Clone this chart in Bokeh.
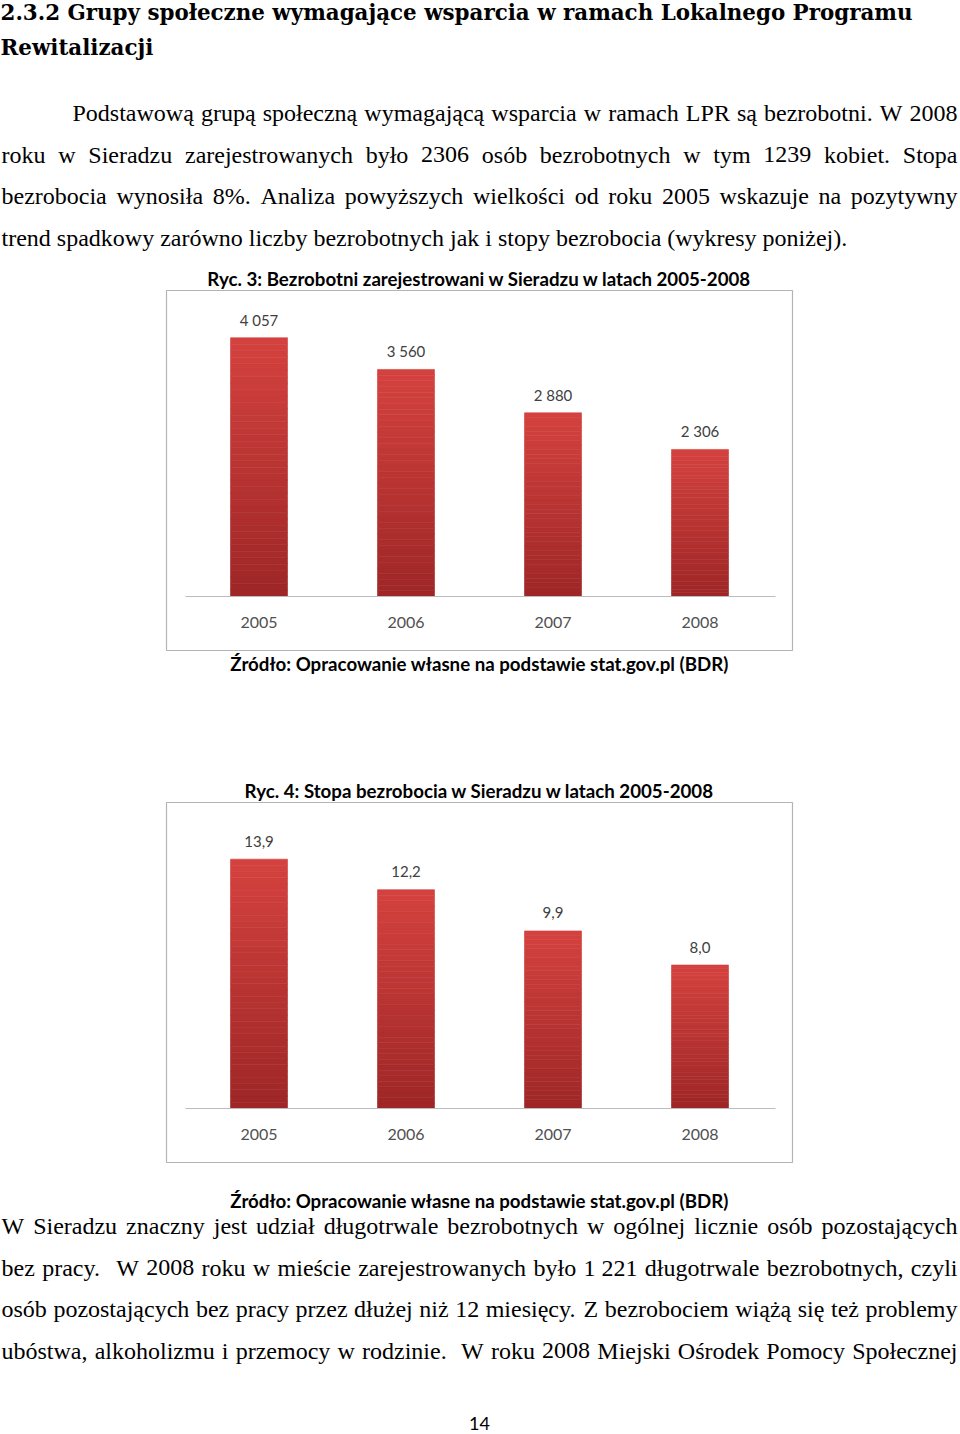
from bokeh.plotting import figure
from bokeh.models import Range1d, ColumnDataSource
from bokeh.embed import file_html
from bokeh.resources import INLINE
from bokeh.core.properties import value

# ---------------- data ----------------
years = ["2005", "2006", "2007", "2008"]
unemployed = [4057, 3560, 2880, 2306]
unemployment_rate = [13.9, 12.2, 9.9, 8.0]
axis_max_unemployed = 4500
axis_max_rate = 16

heading_lines = [
    "2.3.2 Grupy społeczne wymagające wsparcia w ramach Lokalnego Programu",
    "Rewitalizacji",
]
para1_lines = [
    "Podstawową grupą społeczną wymagającą wsparcia w ramach LPR są bezrobotni. W 2008",
    "roku w Sieradzu zarejestrowanych było 2306 osób bezrobotnych w tym 1239 kobiet. Stopa",
    "bezrobocia wynosiła 8%. Analiza powyższych wielkości od roku 2005 wskazuje na pozytywny",
    "trend spadkowy zarówno liczby bezrobotnych jak i stopy bezrobocia (wykresy poniżej).",
]
para2_lines = [
    "W Sieradzu znaczny jest udział długotrwale bezrobotnych w ogólnej licznie osób pozostających",
    "bez pracy.  W 2008 roku w mieście zarejestrowanych było 1\u00a0221 długotrwale bezrobotnych, czyli",
    "osób pozostających bez pracy przez dłużej niż 12 miesięcy. Z bezrobociem wiążą się też problemy",
    "ubóstwa, alkoholizmu i przemocy w rodzinie.  W roku 2008 Miejski Ośrodek Pomocy Społecznej",
]
chart1_title = "Ryc. 3: Bezrobotni zarejestrowani w Sieradzu w latach 2005-2008"
chart2_title = "Ryc. 4: Stopa bezrobocia w Sieradzu w latach 2005-2008"
source_text = "Źródło: Opracowanie własne na podstawie stat.gov.pl (BDR)"
page_number = "14"

unemployed_labels = [f"{v:,}".replace(",", "\u00a0") for v in unemployed]
rate_labels = [f"{v:.1f}".replace(".", ",") for v in unemployment_rate]

# ---------------- page ----------------
W, H = 960, 1434
p = figure(width=W, height=H, x_range=Range1d(0, W), y_range=Range1d(H, 0),
           output_backend="svg", toolbar_location=None, min_border=0,
           x_axis_location=None, y_axis_location=None, outline_line_color=None,
           background_fill_color="white", border_fill_color="white")
p.grid.visible = False

BODY_FONT = "Liberation Serif"
BODY_SIZE = 24
# Times / Liberation Serif advance widths (per 1000 em)
TW = {' ': 250, 'a': 444, 'b': 500, 'c': 444, 'd': 500, 'e': 444, 'f': 333, 'g': 500, 'h': 500,
      'i': 278, 'j': 278, 'k': 500, 'l': 278, 'm': 778, 'n': 500, 'o': 500, 'p': 500, 'q': 500,
      'r': 333, 's': 389, 't': 278, 'u': 500, 'v': 500, 'w': 722, 'x': 500, 'y': 500, 'z': 444,
      'ą': 444, 'ę': 444, 'ć': 444, 'ł': 278, 'ń': 500, 'ó': 500, 'ś': 389, 'ź': 444, 'ż': 444,
      'A': 722, 'B': 667, 'C': 667, 'D': 722, 'E': 611, 'F': 556, 'G': 722, 'H': 722, 'I': 333,
      'J': 389, 'K': 722, 'L': 611, 'M': 889, 'N': 722, 'O': 722, 'P': 556, 'Q': 722, 'R': 667,
      'S': 556, 'T': 611, 'U': 722, 'V': 722, 'W': 944, 'X': 722, 'Y': 722, 'Z': 611, 'Ś': 556,
      'Ź': 611, 'Ż': 611, 'Ó': 722, 'Ł': 611, '.': 250, ',': 250, '(': 333, ')': 333, '%': 833,
      ':': 278, '-': 333, '\u00a0': 250}
for d in "0123456789":
    TW[d] = 500


def tw(s):
    return sum(TW.get(c, 500) for c in s) * BODY_SIZE / 1000.0


def layout_line(line, left, right, justify, y):
    toks = line.split(" ")
    if not justify:
        return [line], [left], [y]
    words_w = sum(tw(t) for t in toks)
    gap = (right - left - words_w) / (len(toks) - 1)
    xs, ts = [], []
    x = left
    for t in toks:
        if t:
            xs.append(x)
            ts.append(t)
        x += tw(t) + gap
    return ts, xs, [y] * len(ts)


def body_paragraph(lines, centers, first_indent, last_justified):
    T, X, Y = [], [], []
    for i, (ln, yc) in enumerate(zip(lines, centers)):
        left = 1 + (first_indent if i == 0 else 0)
        just = last_justified or i < len(lines) - 1
        t, x, y = layout_line(ln, left, 957, just, yc)
        T += t
        X += x
        Y += y
    p.text(x=X, y=Y, text=T, text_font=value(BODY_FONT), text_font_size=f"{BODY_SIZE}px",
           text_color="black", text_align="left", text_baseline="middle")


# heading
p.text(x=[0, 0], y=[12, 47], text=heading_lines, text_font=value("DejaVu Serif"),
       text_font_style="bold", text_font_size="21.4px", text_color="black",
       text_align="left", text_baseline="middle")

body_paragraph(para1_lines, [112.5, 154, 195.5, 237], 71, False)
body_paragraph(para2_lines, [1225.5, 1267, 1308.5, 1350], 0, True)

# ---------------- charts ----------------
X0, STEP = 258.5, 147.0
PLOT_H = 287.0
BAR_W = 57.0
CHART_FONT = "Lato"

x_ranges = {"cx": Range1d(-X0 / STEP, (W - X0) / STEP)}


def y_range_for(vmax, base):
    s = PLOT_H / vmax
    return Range1d(-(H - base) / s, base / s)


charts = [
    dict(name="c1", vals=unemployed, labels=unemployed_labels, vmax=axis_max_unemployed,
         box_top=290, base=596, title=chart1_title, title_y=278, caption_y=663),
    dict(name="c2", vals=unemployment_rate, labels=rate_labels, vmax=axis_max_rate,
         box_top=802, base=1108, title=chart2_title, title_y=790, caption_y=1200),
]

y_ranges = {c["name"]: y_range_for(c["vmax"], c["base"]) for c in charts}
p.extra_x_ranges = x_ranges
p.extra_y_ranges = y_ranges

TOP_RGB = (212, 66, 63)
BOT_RGB = (158, 38, 38)
NSL = 40


def mix(f):
    r = [round(BOT_RGB[k] + (TOP_RGB[k] - BOT_RGB[k]) * f) for k in range(3)]
    return "#%02x%02x%02x" % tuple(r)


for c in charts:
    name = c["name"]
    idx = list(range(len(years)))
    # outer chart frame
    p.quad(left=[166], right=[792], top=[c["box_top"]], bottom=[c["box_top"] + 360],
           fill_color=None, line_color="#b4b4b4", line_width=1.2)
    # bars with vertical gradient
    xs, bots, tops, cols = [], [], [], []
    for i, v in zip(idx, c["vals"]):
        for k in range(NSL):
            xs.append(i)
            bots.append(v * k / NSL)
            tops.append(v * (k + 1) / NSL)
            cols.append(mix((k + 0.5) / NSL))
    src = ColumnDataSource(dict(x=xs, bottom=bots, top=tops, color=cols))
    p.vbar(x="x", bottom="bottom", top="top", width=BAR_W / STEP, source=src,
           fill_color="color", line_color="color", line_width=0.6,
           x_range_name="cx", y_range_name=name)
    # baseline
    p.segment(x0=[185], x1=[775], y0=[0], y1=[0], y_range_name=name,
              line_color="#bcbcbc", line_width=1)
    # value labels
    p.text(x=idx, y=c["vals"], text=c["labels"], x_range_name="cx", y_range_name=name,
           text_align="center", text_baseline="middle", y_offset=-18,
           text_font=value(CHART_FONT), text_font_size="15px", text_color="#404040")
    # category labels
    p.text(x=idx, y=[0] * len(idx), text=years, x_range_name="cx", y_range_name=name,
           text_align="center", text_baseline="middle", y_offset=26,
           text_font=value(CHART_FONT), text_font_size="16px", text_color="#505050")
    # title and source
    p.text(x=[479], y=[c["title_y"]], text=[c["title"]], text_align="center",
           text_baseline="middle", text_font=value(CHART_FONT), text_font_style="bold",
           text_font_size="18.7px", text_color="black")
    p.text(x=[479], y=[c["caption_y"]], text=[source_text], text_align="center",
           text_baseline="middle", text_font=value(CHART_FONT), text_font_style="bold",
           text_font_size="18.7px", text_color="black")

# page number
p.text(x=[479], y=[1423], text=[page_number], text_align="center", text_baseline="middle",
       text_font=value(CHART_FONT), text_font_size="18px", text_color="black")

open("out.html", "w").write(file_html(p, INLINE))
